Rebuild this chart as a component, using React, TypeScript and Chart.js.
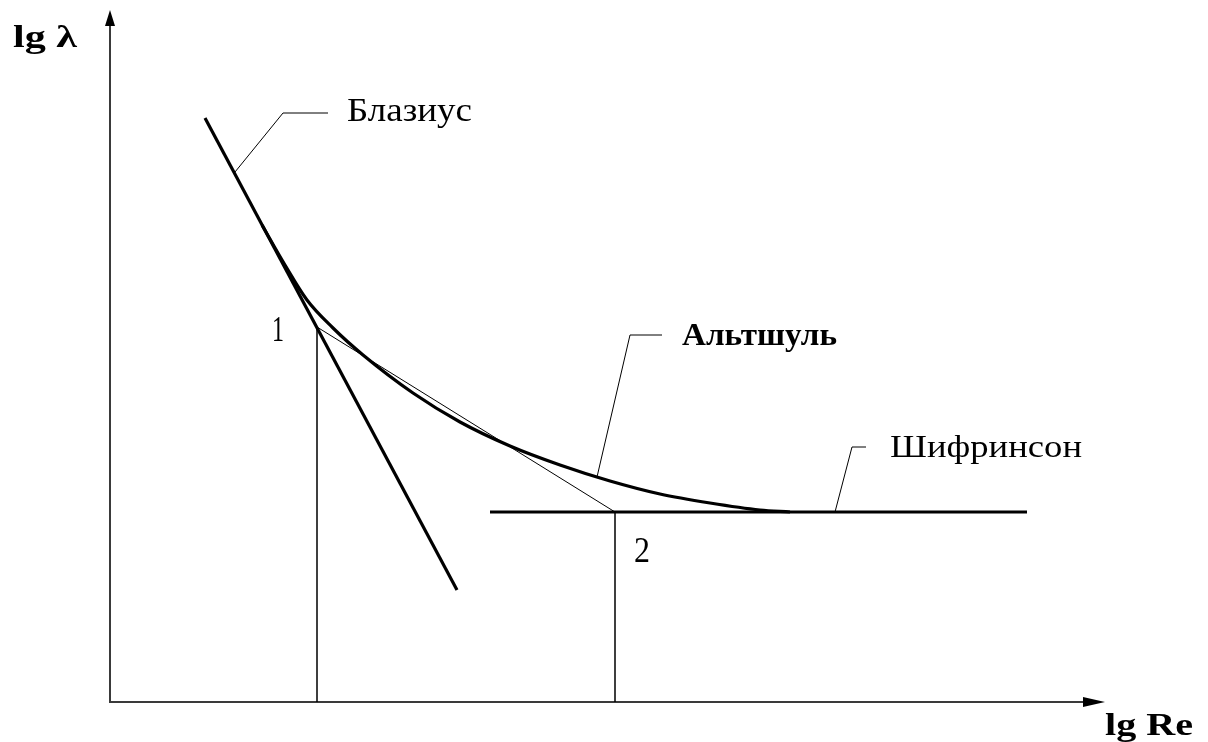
import React, { useEffect, useRef } from "react";
import { Chart, registerables } from "chart.js";

Chart.register(...registerables);

// Axes: x = lg Re, y = lg λ (arbitrary units)
const X_RANGE = [0, 10];
const Y_RANGE = [0, 6.92];

// Blasius line (smooth-pipe law)
const blasiusX = [0.95, 3.47];
const blasiusY = [5.84, 1.12];

// Shifrinson line (fully rough regime, constant λ)
const shifrinsonX = [3.8, 9.17];
const shifrinsonY = [1.9, 1.9];

// Altshul curve (transition between the two)
const altshulX = [1.52, 1.75, 1.97, 2.23, 2.53, 3.03, 3.5, 4.0, 4.5, 5.0, 5.5, 6.0, 6.5, 6.8];
const altshulY = [4.77, 4.37, 4.02, 3.74, 3.47, 3.09, 2.8, 2.56, 2.37, 2.21, 2.08, 1.99, 1.92, 1.9];

// Boundary points 1 and 2 and the chord between them
const pointX = [2.07, 5.05];
const pointY = [3.75, 1.9];
const pointNames = ["1", "2"];

// Leader lines for the curve names
const leaderBlasiusX = [1.25, 1.73, 2.18];
const leaderBlasiusY = [5.3, 5.89, 5.89];
const leaderAltshulX = [4.87, 5.2, 5.52];
const leaderAltshulY = [2.25, 3.67, 3.67];
const leaderShifrinsonX = [7.25, 7.42, 7.56];
const leaderShifrinsonY = [1.9, 2.55, 2.55];

const curveNames = ["Блазиус", "Альтшуль", "Шифринсон"];
const axisTitles = ["lg λ", "lg Re"];

const pts = (xs: number[], ys: number[]) => xs.map((x, i) => ({ x, y: ys[i] }));

type Label = {
  text: string;
  x: number;
  y: number;
  width: number;
  size: number;
  bold?: boolean;
};

// Text anchors (left edge, baseline) in axis units, with the drawn width in px
const labels: Label[] = [
  { text: curveNames[0], x: 2.37, y: 5.81, width: 125, size: 33 },
  { text: curveNames[1], x: 5.72, y: 3.57, width: 155, size: 31, bold: true },
  { text: curveNames[2], x: 7.8, y: 2.45, width: 192, size: 32 },
  { text: pointNames[0], x: 1.62, y: 3.61, width: 12, size: 35 },
  { text: pointNames[1], x: 5.24, y: 1.4, width: 16, size: 35 },
  { text: axisTitles[0], x: -0.97, y: 6.55, width: 64, size: 32, bold: true },
  { text: axisTitles[1], x: 9.95, y: -0.33, width: 88, size: 32, bold: true },
];

const axesPlugin = {
  id: "arrowAxes",
  beforeDatasetsDraw(chart: any) {
    const { ctx } = chart;
    const xs = chart.scales.x;
    const ys = chart.scales.y;
    const ox = xs.getPixelForValue(0);
    const oy = ys.getPixelForValue(0);
    const yTip = ys.getPixelForValue(Y_RANGE[1]);
    const xTip = xs.getPixelForValue(9.95);
    ctx.save();
    ctx.strokeStyle = "#3a3a3a";
    ctx.lineWidth = 2;
    ctx.beginPath();
    ctx.moveTo(ox, yTip + 12);
    ctx.lineTo(ox, oy);
    ctx.lineTo(xTip - 18, oy);
    ctx.stroke();
    ctx.fillStyle = "#000";
    // vertical arrow head
    ctx.beginPath();
    ctx.moveTo(ox, yTip);
    ctx.lineTo(ox - 5, yTip + 16);
    ctx.lineTo(ox + 5, yTip + 16);
    ctx.closePath();
    ctx.fill();
    // horizontal arrow head
    ctx.beginPath();
    ctx.moveTo(xTip, oy);
    ctx.lineTo(xTip - 22, oy - 5);
    ctx.lineTo(xTip - 22, oy + 5);
    ctx.closePath();
    ctx.fill();
    ctx.restore();
  },
};

const textPlugin = {
  id: "curveText",
  afterDatasetsDraw(chart: any) {
    const { ctx } = chart;
    const xs = chart.scales.x;
    const ys = chart.scales.y;
    ctx.save();
    ctx.fillStyle = "#000";
    ctx.textBaseline = "alphabetic";
    ctx.textAlign = "left";
    for (const l of labels) {
      ctx.font = `${l.bold ? "bold " : ""}${l.size}px "Liberation Serif", "DejaVu Serif", serif`;
      const w = ctx.measureText(l.text).width;
      const px = xs.getPixelForValue(l.x);
      const py = ys.getPixelForValue(l.y);
      ctx.save();
      ctx.translate(px, py);
      ctx.scale(l.width / w, 1);
      ctx.fillText(l.text, 0, 0);
      ctx.restore();
    }
    ctx.restore();
  },
};

const line = (data: { x: number; y: number }[], width: number, extra: any = {}) => ({
  data,
  showLine: true,
  borderColor: "#000",
  backgroundColor: "#000",
  borderWidth: width,
  pointRadius: 0,
  pointHoverRadius: 0,
  fill: false,
  ...extra,
});

export default function App() {
  const ref = useRef<HTMLCanvasElement | null>(null);

  useEffect(() => {
    if (!ref.current) return;
    const chart = new Chart(ref.current, {
      type: "scatter",
      data: {
        datasets: [
          line(pts([pointX[0], pointX[0]], [pointY[0], 0]), 1.5),
          line(pts([pointX[1], pointX[1]], [pointY[1], 0]), 1.5),
          line(pts(pointX, pointY), 1),
          line(pts(leaderBlasiusX, leaderBlasiusY), 1),
          line(pts(leaderAltshulX, leaderAltshulY), 1),
          line(pts(leaderShifrinsonX, leaderShifrinsonY), 1),
          line(pts(blasiusX, blasiusY), 3.2),
          line(pts(shifrinsonX, shifrinsonY), 3),
          line(pts(altshulX, altshulY), 3.2, { tension: 0.4, cubicInterpolationMode: "monotone" }),
        ] as any,
      },
      options: {
        animation: false,
        responsive: false,
        devicePixelRatio: 1,
        layout: { padding: { left: 110, right: 98, top: 10, bottom: 40 } },
        plugins: {
          legend: { display: false },
          tooltip: { enabled: false },
          title: { display: false },
        },
        scales: {
          x: { type: "linear", min: X_RANGE[0], max: X_RANGE[1], display: false },
          y: { type: "linear", min: Y_RANGE[0], max: Y_RANGE[1], display: false },
        },
        events: [],
      },
      plugins: [axesPlugin, textPlugin],
    });
    return () => chart.destroy();
  }, []);

  return (
    <div style={{ position: "fixed", left: 0, top: 0, width: 1208, height: 742, background: "#fff" }}>
      <canvas ref={ref} width={1208} height={742} style={{ display: "block" }} />
    </div>
  );
}
